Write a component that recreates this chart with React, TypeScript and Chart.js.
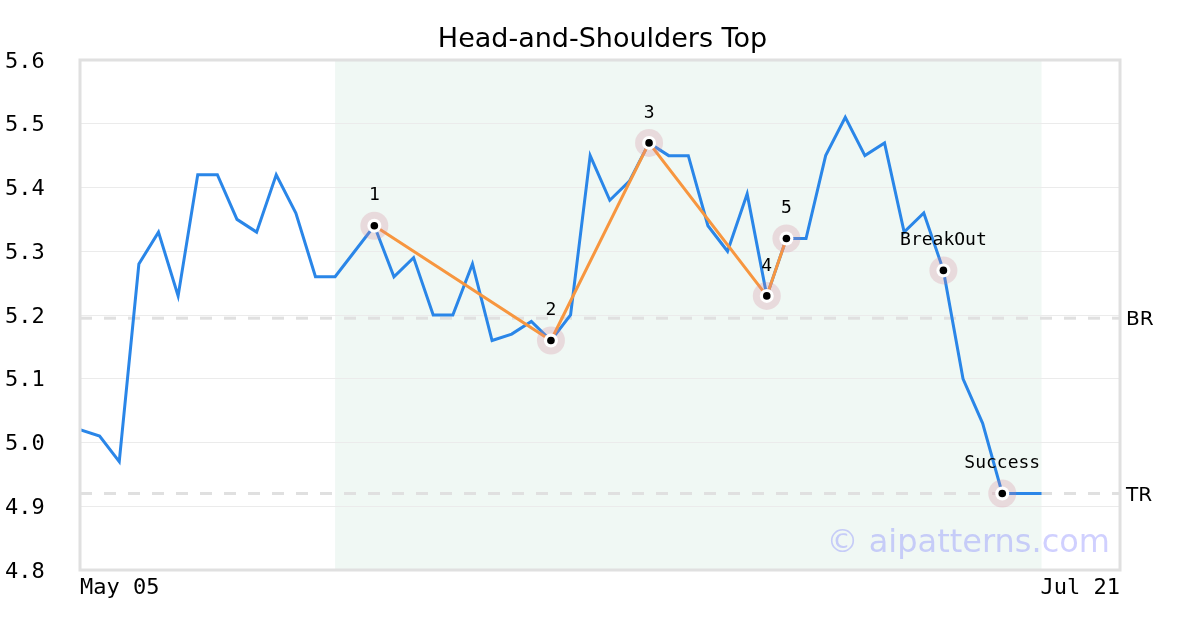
import React, { useEffect, useRef } from "react";
import { Chart, registerables } from "chart.js";

Chart.register(...registerables);

// ---- data ----
const prices: number[] = [
  5.02, 5.01, 4.97, 5.28, 5.33, 5.23, 5.42, 5.42, 5.35, 5.33,
  5.42, 5.36, 5.26, 5.26, 5.30, 5.34, 5.26, 5.29, 5.20, 5.20,
  5.28, 5.16, 5.17, 5.19, 5.16, 5.20, 5.45, 5.38, 5.41, 5.47,
  5.45, 5.45, 5.34, 5.30, 5.39, 5.23, 5.32, 5.32, 5.45, 5.51,
  5.45, 5.47, 5.33, 5.36, 5.27, 5.10, 5.03, 4.92, 4.92, 4.92,
];
const xTickIndices: number[] = [0, 53];
const xTickLabels: string[] = ["May 05", "Jul 21"];
const patternIndices: number[] = [15, 24, 29, 35, 36, 44, 47];
const patternLabels: string[] = ["1", "2", "3", "4", "5", "BreakOut", "Success"];
const shoulderPath: number[] = [15, 24, 29, 35, 36];
const levelValues: number[] = [5.195, 4.92];
const levelLabels: string[] = ["BR", "TR"];
const zoneRange: number[] = [13, 49];
const yMin = 4.8;
const yMax = 5.6;
const yStep = 0.1;
const titleText = "Head-and-Shoulders Top";
const watermark = "\u00A9 aipatterns.com";

const MONO = "'DejaVu Sans Mono', monospace";
const SANS = "'DejaVu Sans', sans-serif";

const decorPlugin = {
  id: "decor",
  beforeDraw(chart: any) {
    const { ctx, chartArea } = chart;
    const x = chart.scales.x;
    ctx.save();
    ctx.fillStyle = "rgba(60,170,120,0.08)";
    const x0 = x.getPixelForValue(zoneRange[0]);
    const x1 = x.getPixelForValue(zoneRange[1]);
    ctx.fillRect(x0, chartArea.top, x1 - x0, chartArea.bottom - chartArea.top);
    ctx.restore();
  },
  beforeDatasetsDraw(chart: any) {
    const { ctx, chartArea } = chart;
    const y = chart.scales.y;
    ctx.save();
    ctx.strokeStyle = "#e0e0e0";
    ctx.lineWidth = 3;
    ctx.setLineDash([12, 12]);
    levelValues.forEach((v) => {
      const py = y.getPixelForValue(v);
      ctx.beginPath();
      ctx.moveTo(chartArea.left, py);
      ctx.lineTo(chartArea.right, py);
      ctx.stroke();
    });
    ctx.restore();
  },
  afterDatasetsDraw(chart: any) {
    const { ctx, chartArea } = chart;
    const x = chart.scales.x;
    const y = chart.scales.y;
    ctx.save();
    // watermark
    ctx.font = `32px ${SANS}`;
    ctx.fillStyle = "rgba(100,100,255,0.3)";
    ctx.textAlign = "right";
    ctx.textBaseline = "middle";
    ctx.fillText(watermark, chartArea.right - 10, chartArea.bottom - 26);
    // frame
    ctx.strokeStyle = "#e0e0e0";
    ctx.lineWidth = 3;
    ctx.strokeRect(chartArea.left, chartArea.top, chartArea.right - chartArea.left, chartArea.bottom - chartArea.top);
    // pattern labels
    ctx.font = `18px ${MONO}`;
    ctx.fillStyle = "#000";
    ctx.textAlign = "center";
    ctx.textBaseline = "middle";
    patternIndices.forEach((idx, k) => {
      const px = x.getPixelForValue(idx);
      const py = y.getPixelForValue(prices[idx]);
      ctx.fillText(patternLabels[k], px, py - 30);
    });
    ctx.restore();
  },
};

export default function App() {
  const ref = useRef<HTMLCanvasElement | null>(null);
  useEffect(() => {
    document.body.style.margin = "0";
    const canvas = ref.current!;
    const markerData = patternIndices.map((i) => ({ x: i, y: prices[i] }));
    const chart = new Chart(canvas, {
      type: "line",
      data: {
        datasets: [
          {
            data: markerData,
            showLine: false,
            pointRadius: 3.8,
            pointBackgroundColor: "#000",
            pointBorderWidth: 0,
            order: 0,
          },
          {
            data: markerData,
            showLine: false,
            pointRadius: 7,
            pointBackgroundColor: "#fff",
            pointBorderWidth: 0,
            order: 1,
          },
          {
            data: markerData,
            showLine: false,
            pointRadius: 14,
            pointBackgroundColor: "rgba(210,130,150,0.25)",
            pointBorderWidth: 0,
            order: 2,
          },
          {
            data: shoulderPath.map((i) => ({ x: i, y: prices[i] })),
            borderColor: "#f7963f",
            borderWidth: 3,
            pointRadius: 0,
            tension: 0,
            order: 3,
          },
          {
            data: prices.map((v, i) => ({ x: i, y: v })),
            borderColor: "#2a86e8",
            borderWidth: 3,
            pointRadius: 0,
            tension: 0,
            order: 4,
          },
        ],
      },
      options: {
        animation: false,
        responsive: false,
        events: [],
        layout: { padding: { left: 5, right: 0, top: 0, bottom: 0 } },
        plugins: {
          legend: { display: false },
          tooltip: { enabled: false },
          title: {
            display: true,
            text: titleText,
            color: "#000",
            font: { family: SANS, size: 27, weight: "normal" },
            padding: { top: 24, bottom: 3.6 },
          },
        },
        scales: {
          x: {
            type: "linear",
            min: xTickIndices[0],
            max: xTickIndices[xTickIndices.length - 1],
            grid: { display: false },
            border: { display: false },
            afterBuildTicks: (scale: any) => {
              scale.ticks = xTickIndices.map((v) => ({ value: v }));
            },
            afterFit: (scale: any) => {
              scale.height = 60;
            },
            ticks: {
              align: "inner",
              maxRotation: 0,
              autoSkip: false,
              padding: -3,
              color: "#000",
              font: { family: MONO, size: 22 },
              callback: (v: any) => {
                const k = xTickIndices.indexOf(Number(v));
                return k >= 0 ? xTickLabels[k] : "";
              },
            },
          },
          y: {
            type: "linear",
            position: "left",
            min: yMin,
            max: yMax,
            grid: { color: "#ebebeb", lineWidth: 1, drawTicks: false },
            border: { display: false },
            afterFit: (scale: any) => {
              scale.width = 75;
            },
            ticks: {
              stepSize: yStep,
              crossAlign: "far",
              padding: 0,
              labelOffset: 2,
              color: "#000",
              font: { family: MONO, size: 22, lineHeight: 1.05 },
              callback: (v: any) => Number(v).toFixed(1),
            },
          },
          y2: {
            type: "linear",
            position: "right",
            min: yMin,
            max: yMax,
            grid: { display: false },
            border: { display: false },
            afterBuildTicks: (scale: any) => {
              scale.ticks = levelValues.map((v) => ({ value: v }));
            },
            afterFit: (scale: any) => {
              scale.width = 80;
            },
            ticks: {
              padding: -2,
              labelOffset: 2,
              color: "#000",
              font: { family: SANS, size: 20, lineHeight: 1.0 },
              callback: (v: any) => {
                const k = levelValues.indexOf(Number(v));
                return k >= 0 ? levelLabels[k] : "";
              },
            },
          },
        },
      } as any,
      plugins: [decorPlugin],
    });
    return () => chart.destroy();
  }, []);
  return (
    <div style={{ width: 1200, height: 630 }}>
      <canvas ref={ref} width={1200} height={630} style={{ width: 1200, height: 630, display: "block" }} />
    </div>
  );
}
